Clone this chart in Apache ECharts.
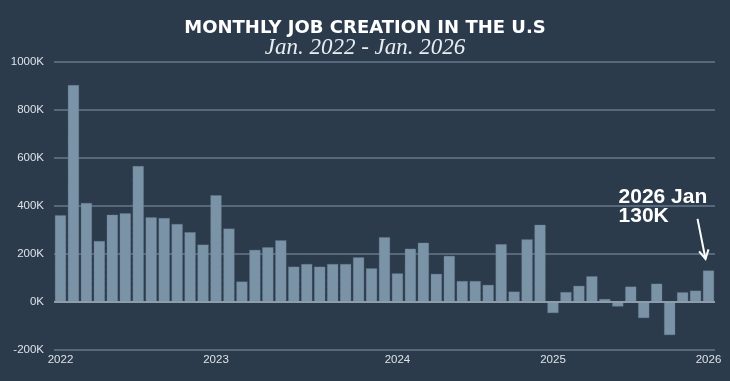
<!DOCTYPE html>
<html>
<head>
<meta charset="utf-8">
<script src="https://cdn.jsdelivr.net/npm/echarts@6/dist/echarts.min.js"></script>
<style>
html,body{margin:0;padding:0;background:#2b3b4c;}
#c{width:730px;height:381px;}
</style>
</head>
<body>
<div id="c"></div>
<script>
const categories = ['P01','P02','P03','P04','P05','P06','P07','P08','P09','P10',
  'P11','P12','P13','P14','P15','P16','P17','P18','P19','P20',
  'P21','P22','P23','P24','P25','P26','P27','P28','P29','P30',
  'P31','P32','P33','P34','P35','P36','P37','P38','P39','P40',
  'P41','P42','P43','P44','P45','P46','P47','P48','P49','P50','P51'];
const jobs = [361, 904, 412, 253, 363, 369, 566, 352, 349, 324,
  290, 238, 444, 305, 84, 216, 227, 256, 146, 157,
  146, 157, 157, 185, 139, 269, 118, 221, 246, 116,
  191, 86, 86, 70, 240, 42, 260, 321, -48, 40,
  66, 106, 11, -21, 63, -69, 75, -140, 39, 46, 130];
const xTickIndex = [0, 12, 26, 38, 50];
const xTickLabels = ['2022', '2023', '2024', '2025', '2026'];
const yTicks = [-200, 0, 200, 400, 600, 800, 1000];
const titleText = 'MONTHLY JOB CREATION IN THE U.S';
const subtitleText = 'Jan. 2022 - Jan. 2026';
const noteLines = ['2026 Jan', '130K'];

const chart = echarts.init(document.getElementById('c'), null, {renderer: 'canvas'});
const option = {
  backgroundColor: '#2b3b4c',
  animation: false,
  title: [{
    text: titleText,
    left: 'center', top: 14,
    textStyle: {color: '#ffffff', fontFamily: 'DejaVu Sans', fontWeight: 'bold', fontSize: 18}
  }, {
    text: subtitleText,
    left: 'center', top: 31,
    textStyle: {color: '#e8edf1', fontFamily: 'Liberation Serif', fontStyle: 'italic', fontWeight: 'normal', fontSize: 23}
  }],
  grid: {left: 54, right: 15, top: 62, bottom: 31.5, containLabel: false, outerBoundsMode: 'none'},
  xAxis: {
    type: 'category',
    data: categories,
    axisLine: {show: false},
    axisTick: {show: false},
    axisLabel: {
      color: '#dde3e8', fontFamily: 'Liberation Sans', fontSize: 11.5, margin: 4,
      interval: function (i) { return xTickIndex.indexOf(i) >= 0; },
      formatter: function (v, i) { const k = xTickIndex.indexOf(i); return k >= 0 ? xTickLabels[k] : ''; }
    }
  },
  yAxis: {
    type: 'value',
    min: yTicks[0], max: yTicks[yTicks.length - 1], interval: 200,
    axisLine: {show: false},
    axisTick: {show: false},
    splitLine: {lineStyle: {color: '#56687a', width: 2}},
    axisLabel: {color: '#dde3e8', fontFamily: 'Liberation Sans', fontSize: 11.5, margin: 10,
      formatter: function (v) { return v + 'K'; }}
  },
  series: [{
    type: 'bar',
    data: jobs,
    barCategoryGap: '13%',
    itemStyle: {color: '#7b93a6', borderColor: '#6a8093', borderWidth: 0.6, borderType: 'dotted'},
    markLine: {
      silent: true, symbol: 'none', label: {show: false},
      lineStyle: {color: '#8e9dac', width: 2, type: 'solid'},
      data: [{yAxis: 0}]
    }
  }]
};
chart.setOption(option);

// annotation anchored to the last bar
const lastIdx = jobs.length - 1;
const tip = chart.convertToPixel({seriesIndex: 0}, [lastIdx, jobs[lastIdx] + 48]);
const tail = chart.convertToPixel({seriesIndex: 0}, [lastIdx, jobs[lastIdx] + 215]);
const tx = tip[0] - 3, ty = tip[1];
const sx = tail[0] - 11, sy = tail[1];
const ang = Math.atan2(ty - sy, tx - sx);
const hl = 10, ha = 0.5;
chart.setOption({
  graphic: [{
    type: 'line', silent: true,
    shape: {x1: sx, y1: sy, x2: tx, y2: ty},
    style: {stroke: '#ffffff', lineWidth: 2}
  }, {
    type: 'polyline', silent: true,
    shape: {points: [
      [tx - hl * Math.cos(ang - ha), ty - hl * Math.sin(ang - ha)],
      [tx, ty],
      [tx - hl * Math.cos(ang + ha), ty - hl * Math.sin(ang + ha)]
    ]},
    style: {stroke: '#ffffff', lineWidth: 2, fill: null}
  }, {
    type: 'text', silent: true,
    left: tip[0] - 90, top: tail[1] - 32,
    style: {text: noteLines.join('\n'), fill: '#ffffff', font: 'bold 21px "Liberation Sans"', lineHeight: 19}
  }]
});
</script>
</body>
</html>
